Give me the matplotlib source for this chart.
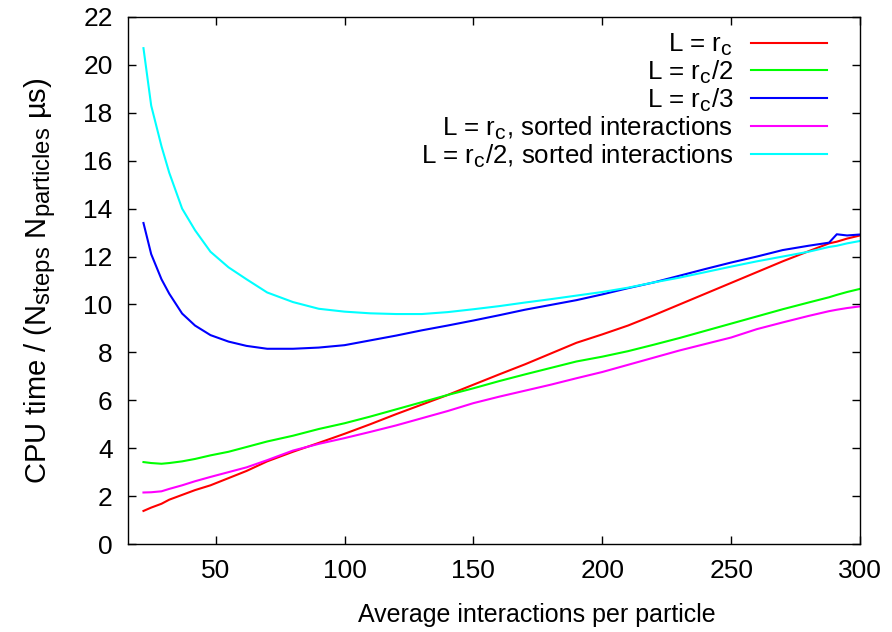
import matplotlib
matplotlib.use("Agg")
import matplotlib.pyplot as plt
import matplotlib._mathtext as mathtext

plt.rcParams['font.family'] = ['Liberation Sans', 'DejaVu Sans']
plt.rcParams['mathtext.default'] = 'regular'
plt.rcParams['font.size'] = 19
# gnuplot draws bigger subscripts than mathtext does
mathtext.SHRINK_FACTOR = 0.82

# average interactions per particle
x = [22, 25, 29, 32, 37, 42, 48, 55, 62, 70, 80, 90, 100, 110, 120, 130, 140, 150,
     160, 170, 180, 190, 200, 210, 220, 230, 240, 250, 260, 270, 280, 288, 291, 295, 300]

# CPU time per step per particle (us)
t_rc = [1.38, 1.52, 1.68, 1.85, 2.05, 2.25, 2.45, 2.75, 3.05, 3.45, 3.85, 4.22, 4.6, 5.0,
        5.42, 5.82, 6.22, 6.65, 7.08, 7.5, 7.95, 8.4, 8.75, 9.12, 9.55, 10.0, 10.45, 10.9,
        11.35, 11.8, 12.22, 12.55, 12.62, 12.75, 12.88]
t_rc2 = [3.42, 3.38, 3.35, 3.38, 3.45, 3.55, 3.7, 3.85, 4.05, 4.28, 4.52, 4.8, 5.04, 5.32,
         5.62, 5.92, 6.22, 6.5, 6.8, 7.08, 7.35, 7.62, 7.82, 8.05, 8.32, 8.6, 8.9, 9.2,
         9.5, 9.8, 10.08, 10.3, 10.4, 10.52, 10.65]
t_rc3 = [13.4, 12.1, 11.05, 10.45, 9.62, 9.12, 8.72, 8.45, 8.27, 8.15, 8.15, 8.2, 8.3, 8.5,
         8.7, 8.92, 9.12, 9.33, 9.55, 9.78, 9.98, 10.18, 10.42, 10.68, 10.92, 11.2, 11.48,
         11.75, 12.0, 12.27, 12.45, 12.58, 12.93, 12.88, 12.92]
t_rc_sorted = [2.15, 2.16, 2.2, 2.3, 2.45, 2.62, 2.8, 3.0, 3.2, 3.5, 3.9, 4.18, 4.42, 4.68,
               4.95, 5.25, 5.55, 5.88, 6.15, 6.4, 6.65, 6.92, 7.18, 7.48, 7.78, 8.08, 8.35,
               8.62, 8.97, 9.25, 9.52, 9.72, 9.78, 9.85, 9.92]
t_rc2_sorted = [20.7, 18.3, 16.6, 15.5, 14.0, 13.1, 12.2, 11.55, 11.05, 10.5, 10.1, 9.82,
                9.7, 9.63, 9.6, 9.6, 9.68, 9.8, 9.93, 10.08, 10.22, 10.37, 10.52, 10.7,
                10.92, 11.12, 11.35, 11.58, 11.8, 12.0, 12.2, 12.4, 12.45, 12.55, 12.65]

labels = [r'L = r$_{c}$', r'L = r$_{c}$/2', r'L = r$_{c}$/3',
          r'L = r$_{c}$, sorted interactions', r'L = r$_{c}$/2, sorted interactions']
colors = ['#ff0000', '#00ff00', '#0000ff', '#ff00ff', '#00ffff']

fig = plt.figure(figsize=(8.92, 6.32), dpi=100)
ax = fig.add_axes([128 / 892, 1 - 544 / 632, (860 - 128) / 892, (544 - 17) / 632])

for y, lab, c in zip([t_rc, t_rc2, t_rc3, t_rc_sorted, t_rc2_sorted], labels, colors):
    ax.plot(x, y, color=c, lw=1.5, label=lab)

ax.set_xlim(16, 300)
ax.set_ylim(0, 22)
ax.set_xticks(range(50, 301, 50))
ax.set_yticks(range(0, 23, 2))
ax.tick_params(direction='in', length=6, width=1, top=True, right=True, pad=11)
for s in ax.spines.values():
    s.set_linewidth(1)

ax.set_xlabel('Average interactions per particle', fontsize=18)
ax.xaxis.set_label_coords((537 - 128) / 732, -0.112)
ax.set_ylabel(r'CPU time / (N$_{steps}$ N$_{particles}$ µs)', fontsize=21, labelpad=18)

ax.legend(loc='upper right', bbox_to_anchor=(0.969, 0.992), borderaxespad=0,
          frameon=False, markerfirst=False, handlelength=2.95, handletextpad=0.68,
          labelspacing=0.03, fontsize=18.6)

fig.savefig('out.png', dpi=100)
